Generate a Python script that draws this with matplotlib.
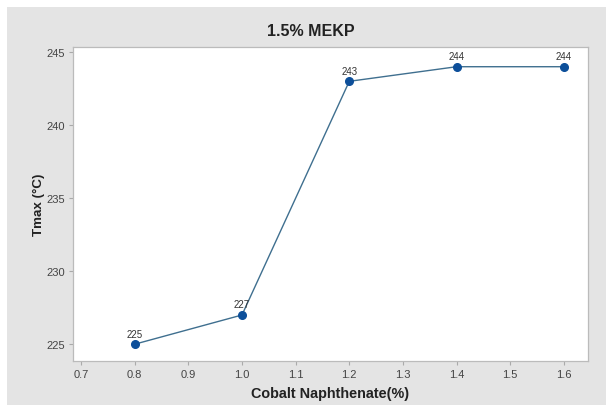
import matplotlib
matplotlib.use("Agg")
import matplotlib.pyplot as plt
from matplotlib.patches import Rectangle

cobalt = [0.8, 1.0, 1.2, 1.4, 1.6]
tmax = [225, 227, 243, 244, 244]
xticks = [0.7, 0.8, 0.9, 1.0, 1.1, 1.2, 1.3, 1.4, 1.5, 1.6]
yticks = [225, 230, 235, 240, 245]

plt.rcParams['font.family'] = ['Liberation Sans', 'DejaVu Sans']

fig = plt.figure(figsize=(6.06, 4.06), dpi=100)
fig.patch.set_facecolor('white')
W, H = 606, 406
fig.patches.append(Rectangle((7 / W, 0), 1 - 7 / W, 1 - 8 / H, transform=fig.transFigure,
                             facecolor='#e4e4e4', edgecolor='none', zorder=-10))

ax = fig.add_axes([73 / W, 1 - 362 / H, (588 - 73) / W, (362 - 48) / H])
ax.set_zorder(5)
ax.set_facecolor('white')
ax.plot(cobalt, tmax, color='#3f6f8f', lw=1.0, marker='o', ms=5.5,
        mfc='#0d4f9a', mec='#0d4f9a', zorder=3)
for x, y in zip(cobalt, tmax):
    ax.annotate(f"{y}", (x, y), xytext=(0, 4), textcoords='offset points',
                ha='center', va='bottom', fontsize=7, color='#333333',
                fontstretch='condensed')

ax.set_xlim(0.685, 1.645)
ax.set_ylim(223.85, 245.35)
ax.set_xticks(xticks)
ax.set_xticklabels([f"{v:.1f}" for v in xticks])
ax.set_yticks(yticks)
ax.tick_params(axis='both', direction='out', length=3, width=0.8, color='#aaaaaa',
               labelsize=8, labelcolor='#444444', pad=3)
for s in ax.spines.values():
    s.set_color('#bbbbbb')
    s.set_linewidth(0.9)

ax.set_xlabel('Cobalt Naphthenate(%)', fontsize=10.4, fontweight='bold', color='#222222', labelpad=5)
ax.set_ylabel('Tmax (\u00b0C)', fontsize=9.6, fontweight='bold', color='#222222', labelpad=1)
fig.text(311 / W, 1 - 31 / H, '1.5% MEKP', ha='center', va='center',
         fontsize=11.5, fontweight='bold', color='#222222')

fig.savefig('out.png', dpi=100, facecolor=fig.get_facecolor())
